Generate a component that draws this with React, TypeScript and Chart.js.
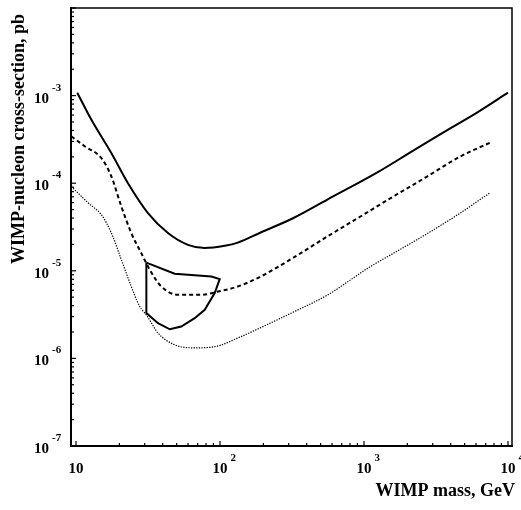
import { useEffect, useRef } from "react";
import { Chart, registerables } from "chart.js";

Chart.register(...registerables);

// WIMP mass (GeV) and cross-section (pb) for each curve
const solidMass = [10.2, 12.77, 17.58, 22.96, 31.6, 43.5, 59.9, 78.3, 108, 133, 190, 321, 553, 1230, 2084, 3538, 6095, 10000];
const solidSigma = [1.08e-3, 5.32e-4, 2.21e-4, 1.0e-4, 4.56e-5, 2.7e-5, 1.98e-5, 1.82e-5, 1.93e-5, 2.1e-5, 2.72e-5, 3.98e-5, 6.47e-5, 1.32e-4, 2.23e-4, 3.78e-4, 6.4e-4, 1.08e-3];

const dashedMass = [9.27, 11.49, 14.98, 17.58, 20.64, 24.2, 28.4, 32.5, 39.1, 51.1, 74.1, 96.8, 133, 190, 332, 553, 938, 1589, 2740, 4640, 7500];
const dashedSigma = [3.43e-4, 2.64e-4, 1.94e-4, 1.2e-4, 5.43e-5, 2.7e-5, 1.59e-5, 1.03e-5, 6.62e-6, 5.32e-6, 5.32e-6, 5.79e-6, 6.62e-6, 8.53e-6, 1.45e-5, 2.45e-5, 4.14e-5, 7.01e-5, 1.19e-4, 2.01e-4, 2.9e-4];

const dottedMass = [9.27, 12.12, 14.98, 17.58, 20.64, 24.2, 27.7, 30.8, 37.1, 48.4, 66.7, 91.9, 133, 190, 321, 553, 1101, 1694, 2740, 4640, 7500];
const dottedSigma = [9.19e-5, 5.98e-5, 4.37e-5, 2.72e-5, 1.34e-5, 6.62e-6, 3.91e-6, 3.14e-6, 1.95e-6, 1.43e-6, 1.32e-6, 1.36e-6, 1.71e-6, 2.23e-6, 3.36e-6, 5.25e-6, 1.11e-5, 1.67e-5, 2.65e-5, 4.54e-5, 7.78e-5];

const regionMass = [30.8, 48.4, 87.1, 99.5, 91.9, 78.3, 66.7, 53.8, 44.8, 37.1, 30.8, 30.8];
const regionSigma = [1.24e-5, 9.25e-6, 8.6e-6, 8.03e-6, 5.56e-6, 3.58e-6, 2.88e-6, 2.31e-6, 2.15e-6, 2.52e-6, 3.29e-6, 1.24e-5];

// axis ticks
const xMajorTicks = [10, 100, 1000, 10000];
const xTickExps = ["", "2", "3", "4"];
const yMajorTicks = [1e-7, 1e-6, 1e-5, 1e-4, 1e-3];
const yTickExps = ["-7", "-6", "-5", "-4", "-3"];
const xMin = 9.23;
const xMax = 10662;
const yMin = 1e-7;
const yMax = 1e-2;

const xTitle = "WIMP mass, GeV";
const yTitle = "WIMP-nucleon cross-section, pb";

const toPoints = (xs: number[], ys: number[]) => xs.map((x, i) => ({ x, y: ys[i] }));

const SERIF = '"Liberation Serif", "DejaVu Serif", serif';

const framePlugin = {
  id: "frame",
  afterDatasetsDraw(chart: any) {
    const { ctx, chartArea: a, scales } = chart;
    const xs = scales.x;
    const ys = scales.y;
    ctx.save();
    ctx.strokeStyle = "#000";
    ctx.fillStyle = "#000";
    ctx.lineCap = "square";
    ctx.lineWidth = 2;
    ctx.beginPath();
    ctx.moveTo(a.left, a.top);
    ctx.lineTo(a.left, a.bottom);
    ctx.lineTo(a.right, a.bottom);
    ctx.stroke();
    ctx.lineWidth = 1.5;
    ctx.beginPath();
    ctx.moveTo(a.left, a.top);
    ctx.lineTo(a.right, a.top);
    ctx.lineTo(a.right, a.bottom);
    ctx.stroke();

    // ticks
    ctx.lineWidth = 1.2;
    ctx.lineCap = "butt";
    for (let d = 1; d <= 4; d++) {
      for (let m = 1; m <= 9; m++) {
        const v = m * Math.pow(10, d);
        if (v < xMin || v > xMax) continue;
        const px = xs.getPixelForValue(v);
        const len = m === 1 ? 5 : 3;
        ctx.beginPath();
        ctx.moveTo(px, a.bottom);
        ctx.lineTo(px, a.bottom - len);
        ctx.stroke();
      }
    }
    for (let d = -7; d <= -2; d++) {
      for (let m = 1; m <= 9; m++) {
        const v = m * Math.pow(10, d);
        if (v < yMin || v > yMax) continue;
        const py = ys.getPixelForValue(v);
        const len = m === 1 ? 5 : 3;
        ctx.beginPath();
        ctx.moveTo(a.left, py);
        ctx.lineTo(a.left + len, py);
        ctx.stroke();
      }
    }

    // x tick labels
    ctx.textBaseline = "alphabetic";
    xMajorTicks.forEach((v, i) => {
      const px = xs.getPixelForValue(v);
      ctx.font = `bold 15px ${SERIF}`;
      ctx.textAlign = "center";
      ctx.fillText("10", px, a.bottom + 27);
      if (xTickExps[i]) {
        const w = ctx.measureText("10").width;
        ctx.font = `bold 11px ${SERIF}`;
        ctx.textAlign = "left";
        ctx.fillText(xTickExps[i], px + w / 2 + 3, a.bottom + 15);
      }
    });
    // y tick labels
    yMajorTicks.forEach((v, i) => {
      const py = ys.getPixelForValue(v);
      ctx.font = `bold 15px ${SERIF}`;
      ctx.textAlign = "right";
      ctx.fillText("10", 49, py + 7);
      ctx.font = `bold 11px ${SERIF}`;
      ctx.textAlign = "left";
      ctx.fillText(yTickExps[i], 52, py - 5);
    });

    // titles
    ctx.font = `bold 18px ${SERIF}`;
    ctx.textAlign = "right";
    ctx.fillText(xTitle, 515, 496);
    ctx.save();
    ctx.translate(24, 139);
    ctx.rotate(-Math.PI / 2);
    ctx.textAlign = "center";
    ctx.fillText(yTitle, 0, 0);
    ctx.restore();
    ctx.restore();
  },
};

export default function App() {
  const ref = useRef<HTMLCanvasElement | null>(null);
  useEffect(() => {
    if (!ref.current) return;
    const chart = new Chart(ref.current, {
      type: "scatter",
      data: {
        datasets: [
          {
            data: toPoints(solidMass, solidSigma),
            showLine: true,
            borderColor: "#000",
            borderWidth: 2,
            pointRadius: 0,
            cubicInterpolationMode: "monotone",
          },
          {
            data: toPoints(dashedMass, dashedSigma),
            showLine: true,
            borderColor: "#000",
            borderWidth: 2,
            borderDash: [4, 3],
            pointRadius: 0,
            cubicInterpolationMode: "monotone",
          },
          {
            data: toPoints(dottedMass, dottedSigma),
            showLine: true,
            borderColor: "#000",
            borderWidth: 1.2,
            borderDash: [1.3, 1.3],
            pointRadius: 0,
            cubicInterpolationMode: "monotone",
          },
          {
            data: toPoints(regionMass, regionSigma),
            showLine: true,
            borderColor: "#000",
            borderWidth: 2,
            pointRadius: 0,
            tension: 0,
          },
        ],
      },
      options: {
        animation: false,
        responsive: false,
        devicePixelRatio: 1,
        layout: { padding: { left: 71, right: 9, top: 8, bottom: 64 } },
        plugins: { legend: { display: false }, tooltip: { enabled: false } },
        scales: {
          x: { type: "logarithmic", min: xMin, max: xMax, display: false },
          y: { type: "logarithmic", min: yMin, max: yMax, display: false },
        },
      },
      plugins: [framePlugin],
    });
    return () => chart.destroy();
  }, []);
  return (
    <div style={{ position: "absolute", left: 0, top: 0, width: 521, height: 510, background: "#fff" }}>
      <canvas ref={ref} width={521} height={510} style={{ display: "block" }} />
    </div>
  );
}
